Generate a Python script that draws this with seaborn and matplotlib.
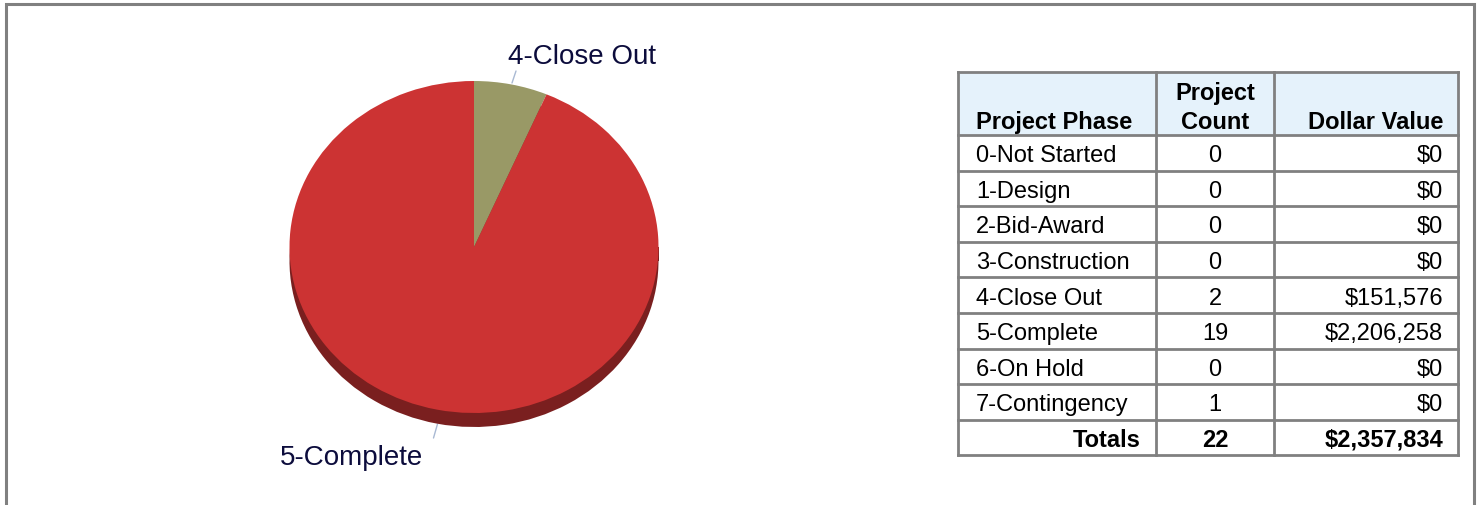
import matplotlib
matplotlib.use("Agg")
import matplotlib.pyplot as plt
from matplotlib.patches import Rectangle
import seaborn as sns

# ---------------- data ----------------
phases = ["0-Not Started", "1-Design", "2-Bid-Award", "3-Construction",
          "4-Close Out", "5-Complete", "6-On Hold", "7-Contingency"]
counts = [0, 0, 0, 0, 2, 19, 0, 1]
dollars = [0, 0, 0, 0, 151576, 2206258, 0, 0]
headers = ["Project Phase", "Project\nCount", "Dollar Value"]
totals_label = "Totals"

top_colors = {"4-Close Out": "#999966", "5-Complete": "#CC3333"}
side_colors = {"4-Close Out": "#5e5e3c", "5-Complete": "#7a1f1f"}

sns.set_theme(style="white")
plt.rcParams['font.family'] = ['Liberation Sans', 'DejaVu Sans']

W, H = 1479, 506
fig = plt.figure(figsize=(W / 100, H / 100), dpi=100)
fig.patch.set_facecolor("white")

bg = fig.add_axes([0, 0, 1, 1])
bg.set_xlim(0, W)
bg.set_ylim(H, 0)
bg.axis('off')

gray = "#808080"
# outer frame
bg.plot([5.5, 5.5, 1474, 1474], [H + 5, 4.5, 4.5, H + 5], color=gray, lw=2.2,
        solid_joinstyle='miter')

# ---------------- pie ----------------
cx, cy, rx, ry = 474, 248, 184.5, 166
depth = 14
pie_labels = [p for p, v in zip(phases, dollars) if v > 0]
pie_vals = [v for v in dollars if v > 0]
L = 1.3
pax = fig.add_axes([(cx - rx * L) / W, 1 - (cy + ry * L) / H,
                    2 * rx * L / W, 2 * ry * L / H])
pax.patch.set_alpha(0)
d = depth / ry
pax.add_patch(Rectangle((-1, -d), 2, d, facecolor=side_colors["5-Complete"],
                        edgecolor='none', zorder=0))
pax.pie(pie_vals, colors=[side_colors[l] for l in pie_labels], startangle=90,
        counterclock=False, center=(0, -d), radius=1,
        wedgeprops=dict(linewidth=0))
pax.pie(pie_vals, colors=[top_colors[l] for l in pie_labels], startangle=90,
        counterclock=False, center=(0, 0), radius=1,
        wedgeprops=dict(linewidth=0))
pax.set_aspect('auto')
pax.set_xlim(-L, L)
pax.set_ylim(-L, L)
pax.axis('off')

# labels with leader lines
lead = "#a9b9d3"
label_color = "#0c0c3c"
bg.plot([512, 516], [84, 72], color=lead, lw=1)
bg.text(508, 64, pie_labels[0], ha='left', va='baseline', fontsize=20,
        color=label_color)
bg.plot([437.5, 433.5], [425, 439], color=lead, lw=1)
bg.text(423, 465, pie_labels[1], ha='right', va='baseline', fontsize=20,
        color=label_color)

# ---------------- table ----------------
xs = [958, 1156, 1274, 1458]
y_top, y_head = 73, 136
rh = 35.6
nrows = len(phases) + 1
ys = [y_top, y_head] + [y_head + rh * (i + 1) for i in range(nrows)]

bg.add_patch(Rectangle((xs[0], y_top), xs[-1] - xs[0], y_head - y_top,
                       facecolor="#e5f2fb", edgecolor='none', zorder=1))
for y in ys:
    bg.plot([xs[0], xs[-1]], [y, y], color=gray, lw=2,
            solid_capstyle='projecting', zorder=3)
for x in xs:
    bg.plot([x, x], [ys[0], ys[-1]], color=gray, lw=2,
            solid_capstyle='projecting', zorder=3)

fs = 17
pad_l = 18
pad_r = 15
col2_c = (xs[1] + xs[2]) / 2
base = 8.4
# headers
hb = 128.5
bg.text(xs[0] + pad_l, hb, headers[0], ha='left', va='baseline', fontsize=fs,
        fontweight='bold', color='black')
h1a, h1b = headers[1].split("\n")
bg.text(col2_c, 99.5, h1a, ha='center', va='baseline', fontsize=fs,
        fontweight='bold', color='black')
bg.text(col2_c, hb, h1b, ha='center', va='baseline', fontsize=fs,
        fontweight='bold', color='black')
bg.text(xs[3] - pad_r, hb, headers[2], ha='right', va='baseline', fontsize=fs,
        fontweight='bold', color='black')

for i, (p, c, v) in enumerate(zip(phases, counts, dollars)):
    yc = (ys[i + 1] + ys[i + 2]) / 2 + base
    bg.text(xs[0] + pad_l, yc, p, ha='left', va='baseline', fontsize=fs,
            color='black')
    bg.text(col2_c, yc, f"{c}", ha='center', va='baseline', fontsize=fs,
            color='black')
    bg.text(xs[3] - pad_r, yc, f"${v:,}", ha='right', va='baseline',
            fontsize=fs, color='black')

yc = (ys[-2] + ys[-1]) / 2 + base
bg.text(xs[1] - pad_r, yc, totals_label, ha='right', va='baseline', fontsize=fs,
        fontweight='bold', color='black')
bg.text(col2_c, yc, f"{sum(counts)}", ha='center', va='baseline', fontsize=fs,
        fontweight='bold', color='black')
bg.text(xs[3] - pad_r, yc, f"${sum(dollars):,}", ha='right', va='baseline',
        fontsize=fs, fontweight='bold', color='black')

fig.savefig("out.png", dpi=100)
